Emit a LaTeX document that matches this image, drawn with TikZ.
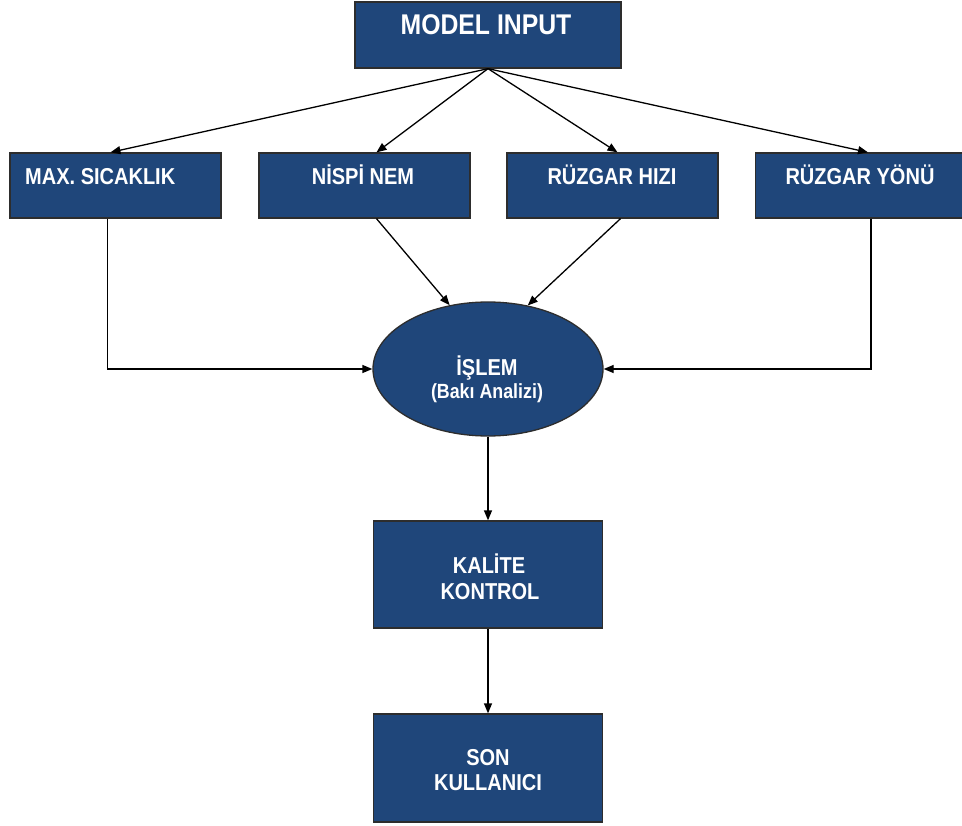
\documentclass[tikz,border=0pt]{standalone}
\usepackage{fontspec}
\newfontfamily\labfont{Liberation Sans}[FakeStretch=0.87]
\usetikzlibrary{arrows.meta,shapes.geometric}
\definecolor{boxblue}{RGB}{31,70,122}
\definecolor{edgegray}{RGB}{45,45,45}
\begin{document}
\begin{tikzpicture}[x=1pt,y=-1pt,
  blk/.style={draw=edgegray,line width=1.3pt,fill=boxblue,rectangle,inner sep=0pt},
  oval/.style={draw=edgegray,line width=1.3pt,fill=boxblue,ellipse,inner sep=0pt,minimum width=230pt,minimum height=134pt},
  txt/.style={text=white,font=\labfont\bfseries\fontsize{23}{27}\selectfont,inner sep=0pt,anchor=base},
  conn/.style={draw=black,line width=1.3pt,-{Triangle[length=10pt,width=8pt]}}]
\useasboundingbox (0,0) rectangle (962,826);
\fill[white] (0,0) rectangle (962,826);
\clip (0,0) rectangle (962,826);
% boxes
\node[blk,minimum width=266pt,minimum height=66pt] (mi) at (488,35) {};
\node[blk,minimum width=211pt,minimum height=65pt] (max) at (115.5,185.5) {};
\node[blk,minimum width=211pt,minimum height=65pt] (nem) at (364.5,185.5) {};
\node[blk,minimum width=211pt,minimum height=65pt] (hiz) at (612.5,185.5) {};
\node[blk,minimum width=211pt,minimum height=65pt] (yon) at (861,185.5) {};
\node[oval] (isl) at (488,369) {};
\node[blk,minimum width=229pt,minimum height=107pt] (kal) at (488,574.5) {};
\node[blk,minimum width=229pt,minimum height=108pt] (son) at (488,768) {};
% texts
\node[txt,font=\labfont\bfseries\fontsize{28.5}{32}\selectfont] (tmi) at (486,35) {MODEL INPUT};
\node[txt,anchor=base west] (tmax) at (25,185) {MAX. SICAKLIK};
\node[txt] (tnem) at (363,185) {NİSPİ NEM};
\node[txt] (thiz) at (612,185) {RÜZGAR HIZI};
\node[txt] (tyon) at (860,185) {RÜZGAR YÖNÜ};
\node[txt] (tisl) at (487,376) {İŞLEM};
\node[txt,font=\labfont\bfseries\fontsize{20.5}{24}\selectfont] (tbak) at (487,399) {(Bakı Analizi)};
\node[txt] (tkal1) at (489,573) {KALİTE};
\node[txt] (tkal2) at (490,599) {KONTROL};
\node[txt] (tson1) at (488,765) {SON};
\node[txt] (tson2) at (488,790) {KULLANICI};
% connectors
\draw[conn] (mi.south) -- ([xshift=-5pt]max.north);
\draw[conn] (mi.south) -- ([xshift=12pt]nem.north);
\draw[conn] (mi.south) -- ([xshift=5pt]hiz.north);
\draw[conn] (mi.south) -- ([xshift=7pt]yon.north);
\draw[conn] ([xshift=12pt]nem.south) -- (isl.121);
\draw[conn] ([xshift=8pt]hiz.south) -- (isl.58);
\draw[conn] ([xshift=-8pt]max.south) |- (isl.west);
\draw[conn] ([xshift=10pt]yon.south) |- (isl.east);
\draw[conn] (isl.south) -- (kal.north);
\draw[conn] (kal.south) -- (son.north);
\end{tikzpicture}
\end{document}
